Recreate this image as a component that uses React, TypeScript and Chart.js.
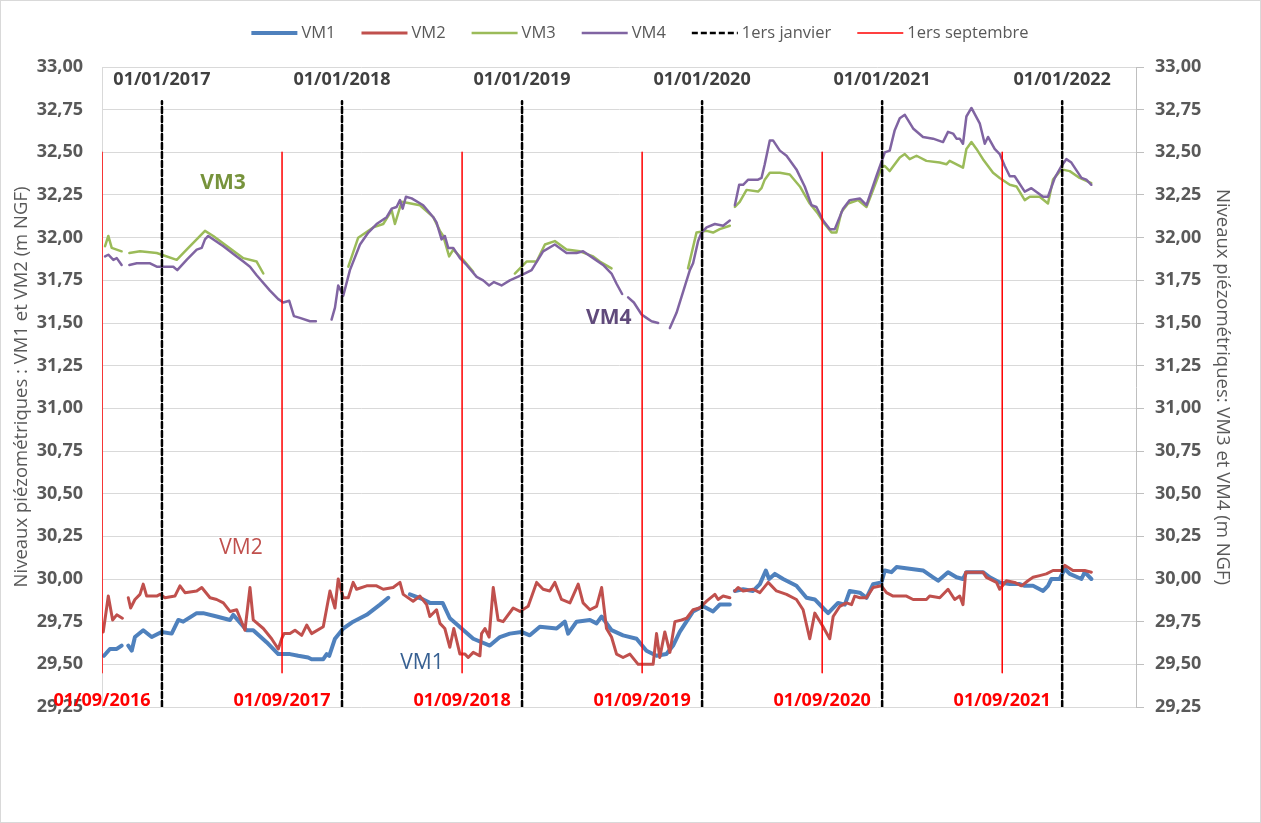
import React, { useEffect, useRef } from 'react';
import { Chart, registerables } from 'chart.js';

Chart.register(...registerables);

// x values are decimal years, y values are levels in m NGF (null = gap in record)
const VM1: [number, number | null][] = [
  [2016.678, 29.55], [2016.711, 29.59], [2016.749, 29.59], [2016.776, 29.61], [2016.790, null],
  [2016.813, 29.61], [2016.832, 29.58], [2016.850, 29.66], [2016.896, 29.70], [2016.943, 29.66],
  [2016.998, 29.69], [2017.054, 29.68], [2017.091, 29.76], [2017.118, 29.75], [2017.193, 29.80],
  [2017.229, 29.80], [2017.304, 29.78], [2017.378, 29.76], [2017.396, 29.79], [2017.470, 29.70],
  [2017.507, 29.70], [2017.581, 29.63], [2017.646, 29.56], [2017.711, 29.56], [2017.757, 29.55],
  [2017.812, 29.54], [2017.831, 29.53], [2017.896, 29.53], [2017.915, 29.56], [2017.929, 29.55],
  [2017.961, 29.65], [2018.007, 29.71], [2018.062, 29.75], [2018.137, 29.79], [2018.211, 29.85],
  [2018.257, 29.89], [2018.320, null], [2018.377, 29.91], [2018.451, 29.88], [2018.488, 29.86],
  [2018.559, 29.86], [2018.599, 29.77], [2018.664, 29.71], [2018.729, 29.65], [2018.821, 29.61],
  [2018.877, 29.66], [2018.932, 29.68], [2018.997, 29.69], [2019.043, 29.67], [2019.099, 29.72],
  [2019.192, 29.71], [2019.238, 29.75], [2019.256, 29.68], [2019.303, 29.75], [2019.377, 29.76],
  [2019.414, 29.74], [2019.442, 29.78], [2019.497, 29.70], [2019.561, 29.67], [2019.636, 29.65],
  [2019.691, 29.58], [2019.747, 29.55], [2019.802, 29.56], [2019.839, 29.61], [2019.876, 29.69],
  [2019.950, 29.81], [2020.006, 29.84], [2020.061, 29.81], [2020.098, 29.85], [2020.154, 29.85],
  [2020.170, null], [2020.182, 29.93], [2020.228, 29.94], [2020.283, 29.93], [2020.321, 29.97],
  [2020.354, 30.05], [2020.372, 30.00], [2020.404, 30.03], [2020.450, 30.00], [2020.524, 29.96],
  [2020.580, 29.89], [2020.626, 29.88], [2020.672, 29.83], [2020.700, 29.80], [2020.755, 29.86],
  [2020.793, 29.85], [2020.820, 29.93], [2020.876, 29.92], [2020.913, 29.89], [2020.950, 29.97],
  [2020.996, 29.98], [2021.015, 30.05], [2021.052, 30.04], [2021.080, 30.07], [2021.153, 30.06],
  [2021.227, 30.05], [2021.283, 30.01], [2021.311, 29.99], [2021.366, 30.04], [2021.413, 30.01],
  [2021.449, 30.00], [2021.468, 30.04], [2021.560, 30.04], [2021.598, 30.01], [2021.653, 29.98],
  [2021.709, 29.97], [2021.764, 29.97], [2021.792, 29.96], [2021.838, 29.96], [2021.894, 29.93],
  [2021.921, 29.96], [2021.940, 30.00], [2021.986, 30.00], [2022.014, 30.06], [2022.042, 30.03],
  [2022.107, 30.00], [2022.125, 30.04], [2022.162, 30.00],
];

const VM2: [number, number | null][] = [
  [2016.674, 29.69], [2016.702, 29.90], [2016.726, 29.76], [2016.749, 29.79], [2016.780, 29.77],
  [2016.795, null], [2016.813, 29.89], [2016.826, 29.83], [2016.850, 29.88], [2016.878, 29.91],
  [2016.896, 29.97], [2016.915, 29.90], [2016.971, 29.90], [2016.989, 29.91], [2017.017, 29.89],
  [2017.072, 29.90], [2017.100, 29.96], [2017.128, 29.92], [2017.193, 29.93], [2017.221, 29.95],
  [2017.267, 29.89], [2017.304, 29.88], [2017.341, 29.86], [2017.378, 29.81], [2017.415, 29.82],
  [2017.461, 29.70], [2017.489, 29.95], [2017.507, 29.76], [2017.563, 29.71], [2017.609, 29.65],
  [2017.646, 29.59], [2017.665, 29.65], [2017.678, 29.68], [2017.711, 29.68], [2017.739, 29.70],
  [2017.776, 29.67], [2017.804, 29.73], [2017.831, 29.68], [2017.896, 29.72], [2017.933, 29.93],
  [2017.961, 29.83], [2017.979, 30.00], [2018.007, 29.89], [2018.035, 29.89], [2018.062, 29.98],
  [2018.081, 29.94], [2018.137, 29.96], [2018.192, 29.96], [2018.229, 29.94], [2018.284, 29.95],
  [2018.322, 29.98], [2018.340, 29.91], [2018.395, 29.87], [2018.433, 29.90], [2018.470, 29.85],
  [2018.488, 29.78], [2018.525, 29.82], [2018.544, 29.74], [2018.571, 29.71], [2018.599, 29.60],
  [2018.621, 29.71], [2018.655, 29.56], [2018.683, 29.56], [2018.701, 29.54], [2018.729, 29.57],
  [2018.766, 29.55], [2018.775, 29.68], [2018.794, 29.71], [2018.817, 29.66], [2018.840, 29.95],
  [2018.867, 29.76], [2018.895, 29.75], [2018.951, 29.83], [2018.988, 29.81], [2019.034, 29.84],
  [2019.081, 29.98], [2019.117, 29.94], [2019.154, 29.93], [2019.182, 29.98], [2019.219, 29.88],
  [2019.266, 29.86], [2019.312, 29.97], [2019.339, 29.86], [2019.377, 29.82], [2019.414, 29.84],
  [2019.442, 29.95], [2019.469, 29.71], [2019.497, 29.66], [2019.525, 29.56], [2019.561, 29.54],
  [2019.599, 29.56], [2019.645, 29.50], [2019.728, 29.50], [2019.747, 29.68], [2019.765, 29.54],
  [2019.793, 29.69], [2019.821, 29.57], [2019.849, 29.75], [2019.886, 29.76], [2019.914, 29.77],
  [2019.950, 29.82], [2019.987, 29.83], [2020.025, 29.87], [2020.071, 29.91], [2020.089, 29.88],
  [2020.117, 29.90], [2020.154, 29.89], [2020.170, null], [2020.182, 29.93], [2020.200, 29.95],
  [2020.228, 29.93], [2020.283, 29.94], [2020.321, 29.92], [2020.367, 29.98], [2020.413, 29.93],
  [2020.469, 29.91], [2020.524, 29.88], [2020.561, 29.82], [2020.598, 29.65], [2020.626, 29.80],
  [2020.672, 29.72], [2020.709, 29.65], [2020.728, 29.78], [2020.765, 29.84], [2020.802, 29.86],
  [2020.830, 29.85], [2020.848, 29.90], [2020.876, 29.89], [2020.913, 29.89], [2020.950, 29.95],
  [2020.996, 29.96], [2021.024, 29.92], [2021.061, 29.90], [2021.135, 29.90], [2021.172, 29.88],
  [2021.246, 29.88], [2021.264, 29.90], [2021.320, 29.89], [2021.366, 29.94], [2021.403, 29.88],
  [2021.431, 29.90], [2021.449, 29.85], [2021.464, 30.04], [2021.560, 30.04], [2021.579, 30.01],
  [2021.635, 29.98], [2021.653, 29.94], [2021.690, 29.99], [2021.736, 29.98], [2021.774, 29.96],
  [2021.810, 29.99], [2021.838, 30.01], [2021.875, 30.02], [2021.912, 30.03], [2021.949, 30.05],
  [2021.996, 30.05], [2022.014, 30.08], [2022.060, 30.05], [2022.125, 30.05], [2022.162, 30.04],
];

const VM3: [number, number | null][] = [
  [2016.684, 31.95], [2016.702, 32.01], [2016.721, 31.94], [2016.776, 31.92], [2016.795, null],
  [2016.819, 31.91], [2016.878, 31.92], [2016.971, 31.91], [2017.082, 31.87], [2017.137, 31.93],
  [2017.239, 32.04], [2017.285, 32.01], [2017.452, 31.88], [2017.526, 31.86], [2017.563, 31.79],
  [2017.800, null], [2018.035, 31.83], [2018.090, 32.00], [2018.173, 32.06], [2018.229, 32.08],
  [2018.276, 32.16], [2018.294, 32.08], [2018.331, 32.21], [2018.433, 32.19], [2018.507, 32.12],
  [2018.544, 32.04], [2018.562, 32.01], [2018.595, 31.89], [2018.618, 31.93], [2018.673, 31.87],
  [2018.729, 31.80], [2018.850, null], [2018.960, 31.79], [2019.025, 31.86], [2019.081, 31.86],
  [2019.127, 31.96], [2019.182, 31.98], [2019.247, 31.93], [2019.321, 31.92], [2019.395, 31.89],
  [2019.432, 31.86], [2019.497, 31.82], [2019.800, null], [2019.922, 31.82], [2019.969, 32.03],
  [2020.025, 32.04], [2020.061, 32.03], [2020.098, 32.05], [2020.154, 32.07], [2020.170, null],
  [2020.182, 32.18], [2020.209, 32.21], [2020.247, 32.28], [2020.311, 32.27], [2020.330, 32.29],
  [2020.348, 32.34], [2020.376, 32.38], [2020.432, 32.38], [2020.487, 32.37], [2020.543, 32.30],
  [2020.598, 32.20], [2020.644, 32.14], [2020.681, 32.08], [2020.719, 32.03], [2020.746, 32.03],
  [2020.774, 32.15], [2020.811, 32.20], [2020.866, 32.22], [2020.913, 32.18], [2020.950, 32.28],
  [2020.996, 32.41], [2021.015, 32.42], [2021.042, 32.39], [2021.098, 32.47], [2021.126, 32.49],
  [2021.153, 32.46], [2021.191, 32.48], [2021.246, 32.45], [2021.320, 32.44], [2021.357, 32.43],
  [2021.375, 32.45], [2021.449, 32.41], [2021.468, 32.52], [2021.496, 32.56], [2021.524, 32.52],
  [2021.560, 32.46], [2021.616, 32.38], [2021.653, 32.35], [2021.709, 32.31], [2021.746, 32.30],
  [2021.792, 32.22], [2021.820, 32.24], [2021.875, 32.24], [2021.921, 32.20], [2021.949, 32.34],
  [2021.996, 32.40], [2022.042, 32.39], [2022.097, 32.35], [2022.162, 32.32],
];

const VM4: [number, number | null][] = [
  [2016.684, 31.89], [2016.702, 31.90], [2016.730, 31.87], [2016.749, 31.88], [2016.776, 31.84],
  [2016.795, null], [2016.819, 31.84], [2016.860, 31.85], [2016.934, 31.85], [2016.971, 31.83],
  [2017.063, 31.83], [2017.085, 31.81], [2017.137, 31.87], [2017.193, 31.93], [2017.221, 31.94],
  [2017.239, 31.99], [2017.257, 32.01], [2017.341, 31.95], [2017.415, 31.89], [2017.452, 31.86],
  [2017.489, 31.83], [2017.526, 31.78], [2017.600, 31.69], [2017.646, 31.64], [2017.674, 31.62],
  [2017.707, 31.63], [2017.733, 31.54], [2017.766, 31.53], [2017.822, 31.51], [2017.855, 31.51],
  [2017.890, null], [2017.942, 31.52], [2017.961, 31.59], [2017.979, 31.72], [2018.007, 31.66],
  [2018.044, 31.81], [2018.100, 31.96], [2018.146, 32.03], [2018.192, 32.08], [2018.248, 32.12],
  [2018.276, 32.17], [2018.303, 32.18], [2018.322, 32.22], [2018.337, 32.17], [2018.355, 32.24],
  [2018.387, 32.23], [2018.451, 32.19], [2018.507, 32.12], [2018.525, 32.09], [2018.553, 31.99],
  [2018.571, 32.01], [2018.590, 31.94], [2018.618, 31.94], [2018.655, 31.88], [2018.692, 31.84],
  [2018.748, 31.77], [2018.784, 31.75], [2018.817, 31.72], [2018.844, 31.74], [2018.886, 31.72],
  [2018.932, 31.75], [2018.997, 31.78], [2019.053, 31.81], [2019.117, 31.92], [2019.182, 31.96],
  [2019.247, 31.91], [2019.303, 31.91], [2019.339, 31.92], [2019.395, 31.88], [2019.450, 31.84],
  [2019.497, 31.79], [2019.525, 31.73], [2019.556, 31.67], [2019.570, null], [2019.589, 31.65],
  [2019.621, 31.62], [2019.664, 31.55], [2019.691, 31.53], [2019.719, 31.51], [2019.756, 31.50],
  [2019.790, null], [2019.821, 31.47], [2019.858, 31.56], [2019.932, 31.81], [2019.950, 31.85],
  [2019.978, 31.98], [2019.997, 32.03], [2020.025, 32.06], [2020.071, 32.08], [2020.117, 32.07],
  [2020.154, 32.10], [2020.170, null], [2020.182, 32.19], [2020.206, 32.31], [2020.228, 32.31],
  [2020.256, 32.34], [2020.311, 32.34], [2020.330, 32.35], [2020.348, 32.43], [2020.376, 32.57],
  [2020.394, 32.57], [2020.432, 32.51], [2020.469, 32.48], [2020.524, 32.40], [2020.570, 32.30],
  [2020.608, 32.19], [2020.635, 32.18], [2020.672, 32.10], [2020.709, 32.05], [2020.737, 32.05],
  [2020.783, 32.17], [2020.820, 32.22], [2020.876, 32.23], [2020.913, 32.19], [2020.968, 32.36],
  [2021.015, 32.50], [2021.042, 32.51], [2021.070, 32.63], [2021.098, 32.70], [2021.126, 32.72],
  [2021.172, 32.64], [2021.227, 32.59], [2021.283, 32.58], [2021.338, 32.56], [2021.366, 32.62],
  [2021.394, 32.61], [2021.413, 32.58], [2021.431, 32.58], [2021.449, 32.55], [2021.468, 32.71],
  [2021.496, 32.76], [2021.542, 32.67], [2021.570, 32.55], [2021.588, 32.59], [2021.625, 32.52],
  [2021.653, 32.49], [2021.681, 32.42], [2021.709, 32.36], [2021.736, 32.36], [2021.792, 32.27],
  [2021.829, 32.29], [2021.894, 32.24], [2021.921, 32.24], [2021.959, 32.35], [2021.996, 32.42],
  [2022.023, 32.46], [2022.051, 32.44], [2022.107, 32.35], [2022.134, 32.34], [2022.162, 32.31],
];

// Reference dates
const JANUARY_YEARS = [2017, 2018, 2019, 2020, 2021, 2022];
const JANUARY_LABELS = ['01/01/2017', '01/01/2018', '01/01/2019', '01/01/2020', '01/01/2021', '01/01/2022'];
const SEPTEMBER_YEARS = [2016.667, 2017.667, 2018.667, 2019.667, 2020.667, 2021.667];
const SEPTEMBER_LABELS = ['01/09/2016', '01/09/2017', '01/09/2018', '01/09/2019', '01/09/2020', '01/09/2021'];
const JANUARY_SPAN = [29.25, 32.8];
const SEPTEMBER_SPAN = [29.45, 32.5];

const X_MIN = 2016.667;
const X_MAX = 2022.41;
const Y_MIN = 29.25;
const Y_MAX = 33;
const Y_STEP = 0.25;

const SERIES_TAGS = [
  { text: 'VM3', x: 2017.339, y: 32.32, color: '#77933C', weight: 'bold' },
  { text: 'VM4', x: 2019.482, y: 31.53, color: '#604A7B', weight: 'bold' },
  { text: 'VM2', x: 2017.439, y: 30.18, color: '#C0504D', weight: 'normal' },
  { text: 'VM1', x: 2018.444, y: 29.51, color: '#376092', weight: 'normal' },
];
const JANUARY_LABEL_Y = 32.895;
const SEPTEMBER_LABEL_Y = 29.255;

const FONT = '"Open Sans", "DejaVu Sans", sans-serif';

const toPoints = (rows: [number, number | null][]) => rows.map(([x, y]) => ({ x, y }));
const verticals = (xs: number[], span: number[]) => {
  const pts: { x: number; y: number | null }[] = [];
  xs.forEach((x) => {
    pts.push({ x, y: span[0] }, { x, y: span[1] }, { x, y: null });
  });
  return pts;
};
const fmt = (v: number) => v.toFixed(2).replace('.', ',');

const legendPlugin = {
  id: 'excelLegend',
  afterDraw(chart: any) {
    const ctx = chart.ctx as CanvasRenderingContext2D;
    ctx.save();
    ctx.font = `16.5px ${FONT}`;
    const items = chart.data.datasets.map((d: any) => ({
      label: d.label,
      color: d.borderColor,
      width: d.borderWidth,
      dash: d.borderDash || [],
    }));
    const lineLen = 46;
    const gapText = 4;
    const gapItem = 26;
    const widths = items.map((it: any) => lineLen + gapText + ctx.measureText(it.label).width);
    const total = widths.reduce((a: number, b: number) => a + b, 0) + gapItem * (items.length - 1);
    let x = 640 - total / 2;
    const y = 33;
    items.forEach((it: any, i: number) => {
      ctx.beginPath();
      ctx.setLineDash(it.dash);
      ctx.lineWidth = Math.min(it.width, 4);
      ctx.strokeStyle = it.color;
      ctx.moveTo(x, y);
      ctx.lineTo(x + lineLen, y);
      ctx.stroke();
      ctx.setLineDash([]);
      ctx.fillStyle = '#595959';
      ctx.textAlign = 'left';
      ctx.textBaseline = 'middle';
      ctx.fillText(it.label, x + lineLen + gapText, y);
      x += widths[i] + gapItem;
    });
    ctx.restore();
  },
};

const textPlugin = {
  id: 'dateAndTags',
  afterDatasetsDraw(chart: any) {
    const ctx = chart.ctx as CanvasRenderingContext2D;
    const xs = chart.scales.x;
    const ys = chart.scales.y;
    ctx.save();
    ctx.textAlign = 'center';
    ctx.textBaseline = 'alphabetic';
    ctx.font = `bold 18px ${FONT}`;
    ctx.fillStyle = '#404040';
    JANUARY_YEARS.forEach((yr, i) => {
      ctx.fillText(JANUARY_LABELS[i], xs.getPixelForValue(yr), ys.getPixelForValue(JANUARY_LABEL_Y));
    });
    ctx.fillStyle = '#FF0000';
    SEPTEMBER_YEARS.forEach((yr, i) => {
      ctx.fillText(SEPTEMBER_LABELS[i], xs.getPixelForValue(yr), ys.getPixelForValue(SEPTEMBER_LABEL_Y));
    });
    ctx.textBaseline = 'middle';
    SERIES_TAGS.forEach((t) => {
      ctx.font = `${t.weight} 21px ${FONT}`;
      ctx.fillStyle = t.color;
      ctx.fillText(t.text, xs.getPixelForValue(t.x), ys.getPixelForValue(t.y));
    });
    ctx.restore();
  },
};

export default function App() {
  const ref = useRef<HTMLCanvasElement>(null);

  useEffect(() => {
    document.body.style.margin = '0';
    Chart.defaults.font.family = FONT;
    const chart = new Chart(ref.current as HTMLCanvasElement, {
      type: 'line',
      data: {
        datasets: [
          { label: 'VM1', data: toPoints(VM1), borderColor: '#4F81BD', borderWidth: 4, yAxisID: 'y', order: 6 },
          { label: 'VM2', data: toPoints(VM2), borderColor: '#C0504D', borderWidth: 3, yAxisID: 'y', order: 5 },
          { label: 'VM3', data: toPoints(VM3), borderColor: '#9BBB59', borderWidth: 2.5, yAxisID: 'y1', order: 4 },
          { label: 'VM4', data: toPoints(VM4), borderColor: '#8064A2', borderWidth: 2.5, yAxisID: 'y1', order: 3 },
          {
            label: '1ers janvier',
            data: verticals(JANUARY_YEARS, JANUARY_SPAN),
            borderColor: '#000000',
            borderWidth: 2.5,
            borderDash: [6, 3],
            yAxisID: 'y',
            order: 2,
          },
          {
            label: '1ers septembre',
            data: verticals(SEPTEMBER_YEARS, SEPTEMBER_SPAN),
            borderColor: '#FF0000',
            borderWidth: 1.5,
            yAxisID: 'y',
            order: 1,
          },
        ] as any,
      },
      options: {
        animation: false,
        responsive: false,
        devicePixelRatio: 1,
        spanGaps: false,
        elements: {
          point: { radius: 0, hoverRadius: 0 },
          line: { tension: 0, borderCapStyle: 'round', borderJoinStyle: 'round' },
        },
        layout: { padding: { top: 67, bottom: 116, left: 0, right: 0 } },
        plugins: { legend: { display: false }, tooltip: { enabled: false } },
        scales: {
          x: { type: 'linear', min: X_MIN, max: X_MAX, display: false },
          y: {
            position: 'left',
            min: Y_MIN,
            max: Y_MAX,
            ticks: {
              stepSize: Y_STEP,
              autoSkip: false,
              callback: (v: any) => fmt(Number(v)),
              font: { size: 18, weight: 'bold' },
              color: '#595959',
              padding: 19,
            },
            grid: { color: '#d9d9d9', lineWidth: 1, drawTicks: false },
            border: { color: '#d9d9d9' },
            title: {
              display: true,
              text: 'Niveaux piézométriques : VM1 et VM2 (m NGF)',
              color: '#595959',
              font: { size: 18.5 },
              padding: { top: 11, bottom: 0 },
            },
            afterFit: (s: any) => {
              s.width = 102;
            },
          },
          y1: {
            position: 'right',
            min: Y_MIN,
            max: Y_MAX,
            ticks: {
              stepSize: Y_STEP,
              autoSkip: false,
              callback: (v: any) => fmt(Number(v)),
              font: { size: 18, weight: 'bold' },
              color: '#595959',
              padding: 11,
            },
            grid: { drawOnChartArea: false, color: '#bfbfbf', tickLength: 8 },
            border: { color: '#bfbfbf' },
            title: {
              display: true,
              text: 'Niveaux piézométriques: VM3 et VM4 (m NGF)',
              color: '#595959',
              font: { size: 18.5 },
              padding: { top: 28, bottom: 0 },
            },
            afterFit: (s: any) => {
              s.width = 125;
            },
          },
        },
      } as any,
      plugins: [legendPlugin, textPlugin],
    });
    return () => chart.destroy();
  }, []);

  return (
    <div style={{ position: 'relative', width: 1261, height: 823, background: '#ffffff' }}>
      <canvas ref={ref} width={1261} height={823} style={{ display: 'block' }} />
      <div
        style={{
          position: 'absolute',
          inset: 0,
          border: '1px solid #d9d9d9',
          pointerEvents: 'none',
        }}
      />
    </div>
  );
}
